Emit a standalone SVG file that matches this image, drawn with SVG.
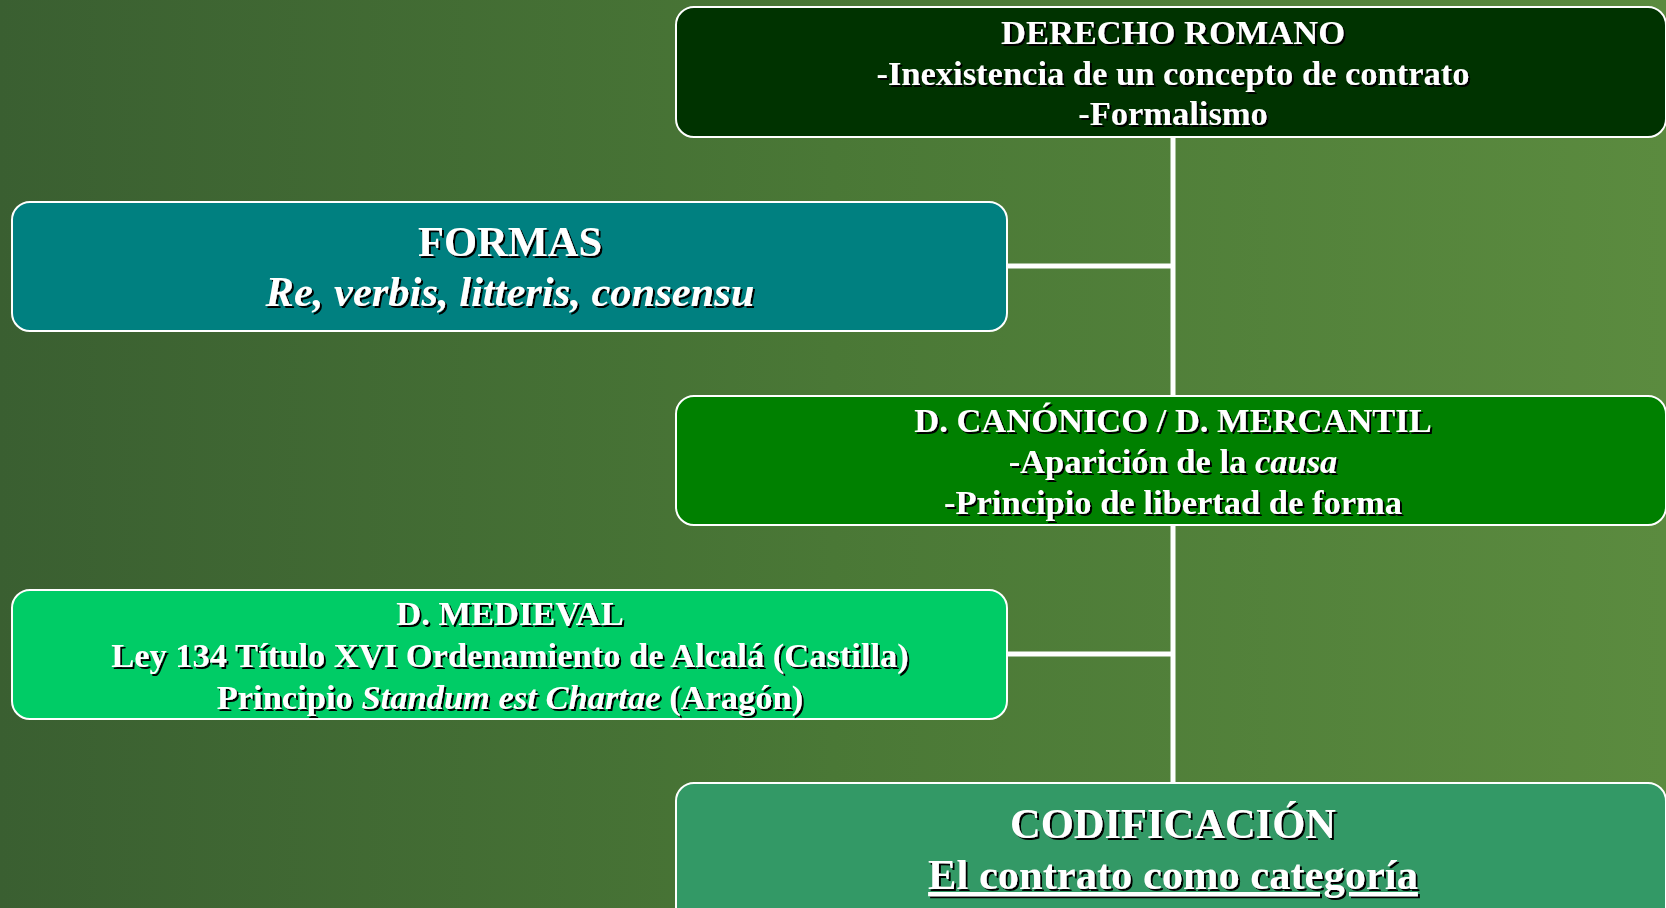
<svg xmlns="http://www.w3.org/2000/svg" width="1666" height="908" viewBox="0 0 1666 908">
<defs>
<linearGradient id="bg" x1="0" y1="0" x2="1" y2="0">
<stop offset="0" stop-color="#3a5f31"/>
<stop offset="0.5" stop-color="#4a7836"/>
<stop offset="1" stop-color="#5b8b3f"/>
</linearGradient>
<filter id="sh" x="-5%" y="-20%" width="110%" height="140%">
<feDropShadow dx="2" dy="2" stdDeviation="0" flood-color="#000" flood-opacity="1"/>
</filter>
</defs>
<style>
.box{stroke:#fff;stroke-width:2}
.t{font-family:"Liberation Serif","Times New Roman",serif;font-weight:bold;fill:#fff;text-anchor:middle;filter:url(#sh)}
.s32{font-size:34.5px}
.s40{font-size:42.5px}
.conn{stroke:#fff;stroke-width:5;fill:none}
</style>
<rect width="1666" height="908" fill="url(#bg)"/>
<g id="connectors">
<line class="conn" x1="1173" y1="137" x2="1173" y2="783"/>
<line class="conn" x1="1007" y1="266" x2="1175" y2="266"/>
<line class="conn" x1="1007" y1="654" x2="1175" y2="654"/>
</g>
<g id="derecho-romano">
<rect class="box" x="676" y="7" width="990" height="130" rx="18" fill="#003300"/>
<text class="t s32" x="1173" y="44">DERECHO ROMANO</text>
<text class="t s32" x="1173" y="85">-Inexistencia de un concepto de contrato</text>
<text class="t s32" x="1173" y="125">-Formalismo</text>
</g>
<g id="formas">
<rect class="box" x="12" y="202" width="995" height="129" rx="18" fill="#008080"/>
<text class="t s40" x="510" y="256">FORMAS</text>
<text class="t s40" x="510" y="306" font-style="italic">Re, verbis, litteris, consensu</text>
</g>
<g id="canonico">
<rect class="box" x="676" y="396" width="990" height="129" rx="18" fill="#008000"/>
<text class="t s32" x="1173" y="432">D. CANÓNICO / D. MERCANTIL</text>
<text class="t s32" x="1173" y="473">-Aparición de la <tspan font-style="italic">causa</tspan></text>
<text class="t s32" x="1173" y="514">-Principio de libertad de forma</text>
</g>
<g id="medieval">
<rect class="box" x="12" y="590" width="995" height="129" rx="18" fill="#00cc66"/>
<text class="t s32" x="510" y="625">D. MEDIEVAL</text>
<text class="t s32" x="510" y="667">Ley 134 Título XVI Ordenamiento de Alcalá (Castilla)</text>
<text class="t s32" x="510" y="709">Principio <tspan font-style="italic">Standum est Chartae</tspan> (Aragón)</text>
</g>
<g id="codificacion">
<rect class="box" x="676" y="783" width="990" height="150" rx="18" fill="#339966"/>
<text class="t s40" x="1173" y="838">CODIFICACIÓN</text>
<text class="t s40" x="1173" y="889" text-decoration="underline">El contrato como categoría</text>
</g>
</svg>
